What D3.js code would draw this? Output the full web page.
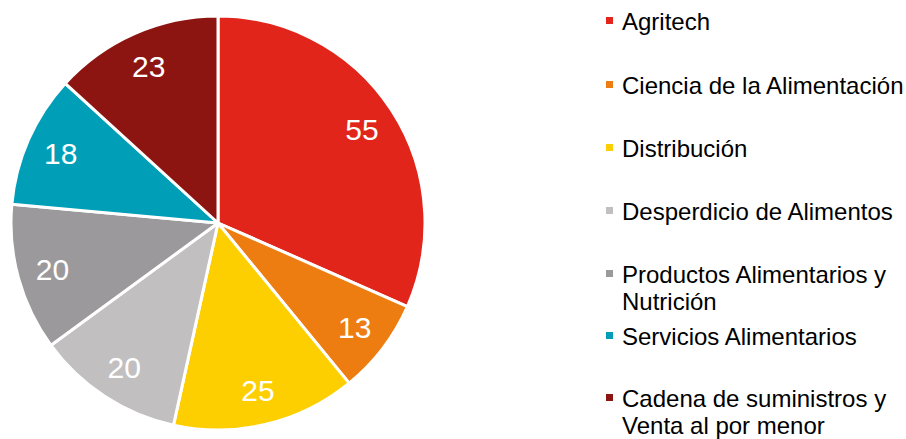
<!DOCTYPE html>
<html><head><meta charset="utf-8">
<script src="https://cdn.jsdelivr.net/npm/d3@7"></script>
<style>body{margin:0;background:#fff;} svg{display:block;}</style>
</head><body>
<svg id="c" width="906" height="439"></svg>
<script>
const categories = ["Agritech","Ciencia de la Alimentación","Distribución","Desperdicio de Alimentos","Productos Alimentarios y Nutrición","Servicios Alimentarios","Cadena de suministros y Venta al por menor"];
const values = [55,13,25,20,20,18,23];
const colors = ["#E1251B","#EE7D11","#FDCF00","#C1BFC0","#9B999B","#009FB7","#8C1512"];
const legendLines = [["Agritech"],["Ciencia de la Alimentación"],["Distribución"],["Desperdicio de Alimentos"],["Productos Alimentarios y","Nutrición"],["Servicios Alimentarios"],["Cadena de suministros y","Venta al por menor"]];

const svg = d3.select("#c");
const cx = 218, cy = 223, R = 207;
const data = categories.map((c,i)=>({c, v: values[i], col: colors[i]}));
const pie = d3.pie().value(d=>d.v).sort(null);
const arc = d3.arc().innerRadius(0).outerRadius(R);
const labelArc = d3.arc().innerRadius(R*0.83).outerRadius(R*0.83);
const g = svg.append("g").attr("transform",`translate(${cx},${cy})`);
const arcs = pie(data);
g.selectAll("path").data(arcs).join("path")
  .attr("d",arc).attr("fill",d=>d.data.col)
  .attr("stroke","#fff").attr("stroke-width",3).attr("stroke-linejoin","round");
g.selectAll("text").data(arcs).join("text")
  .attr("transform",d=>`translate(${labelArc.centroid(d)})`)
  .attr("text-anchor","middle").attr("dy","0.36em")
  .attr("fill","#fff").attr("font-family","'Liberation Sans', Arial, sans-serif")
  .attr("font-size",30).text(d=>d.data.v);

const lg = svg.append("g");
const baselines = [30,94,157,220,283,345,407];
legendLines.forEach((lines,i)=>{
  const y = baselines[i];
  lg.append("rect").attr("x",606).attr("y",y-13).attr("width",7).attr("height",7).attr("fill",colors[i]);
  const t = lg.append("text").attr("x",622).attr("y",y)
    .attr("font-family","'Liberation Sans', Arial, sans-serif").attr("font-size",24).attr("fill","#000");
  lines.forEach((ln,j)=>{
    t.append("tspan").attr("x",622).attr("y",y + j*27).text(ln);
  });
});
</script>
</body></html>
